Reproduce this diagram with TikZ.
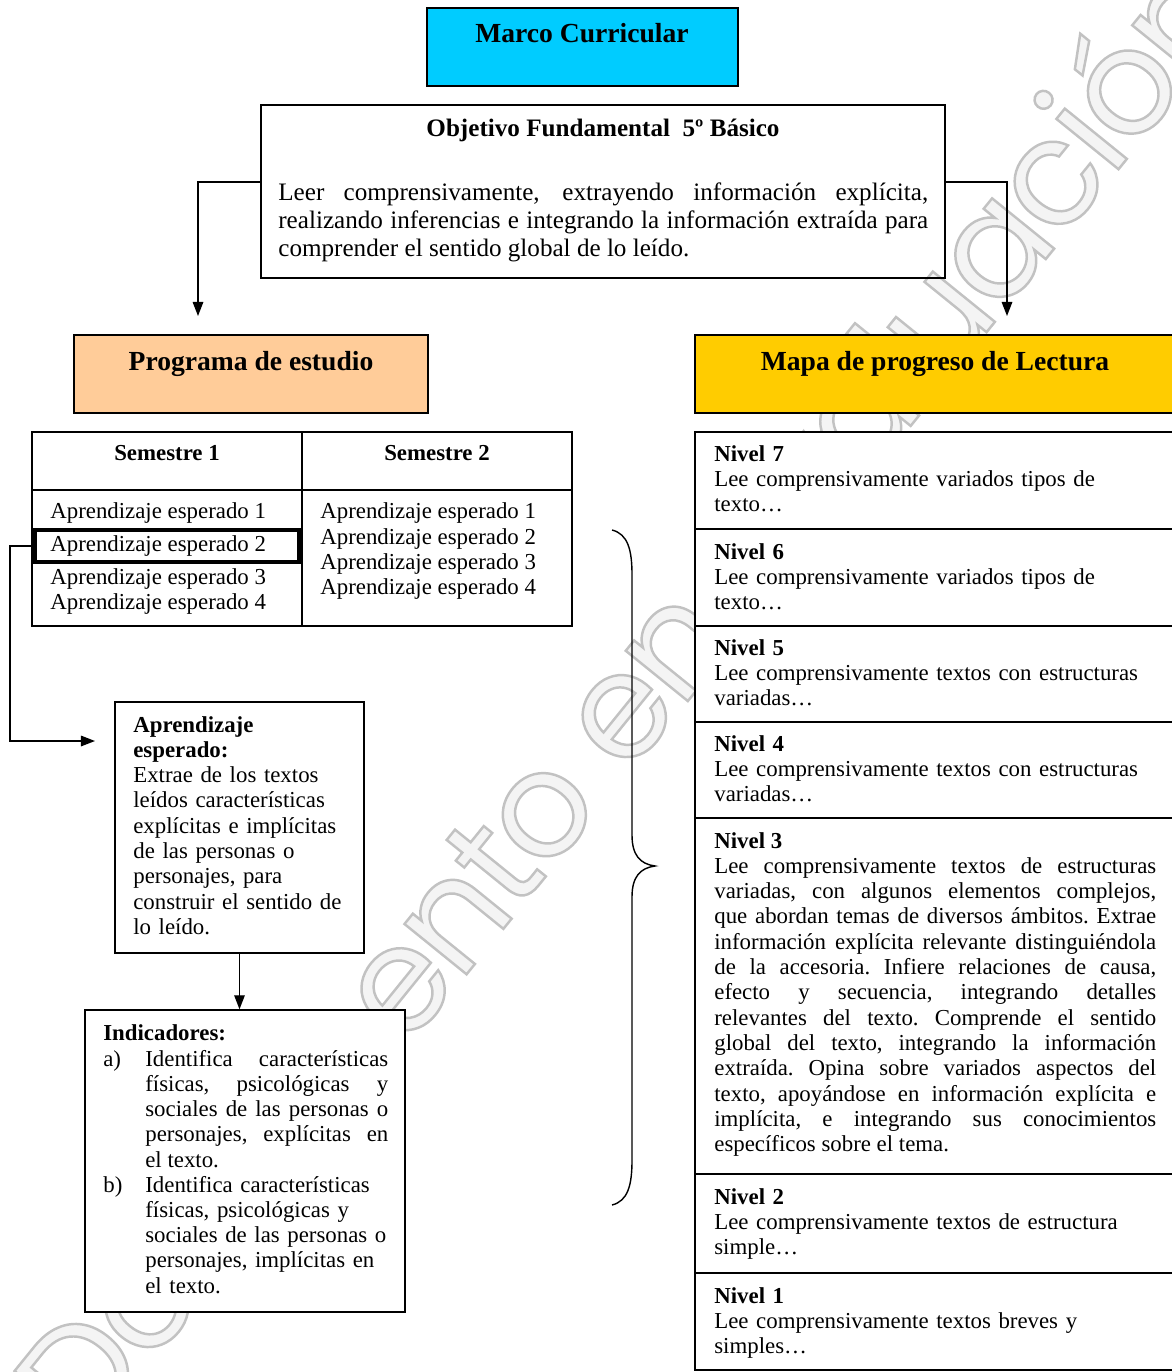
\documentclass[tikz,border=0pt]{standalone}
\usepackage{fontspec}
\setmainfont{Liberation Serif}
\newfontfamily\wmfont[LetterSpace=-3]{Poppins}
\usetikzlibrary{arrows.meta,fit,positioning}

\definecolor{marcoblue}{RGB}{0,204,255}
\definecolor{progpeach}{RGB}{255,204,153}
\definecolor{mapagold}{RGB}{255,204,0}
\definecolor{wmfill}{RGB}{244,244,244}

% hollow letters for the watermark
\newcommand{\hollow}[1]{\special{pdf:literal direct 2 Tr 1.4 w 0.76 G}#1\special{pdf:literal direct 0 Tr}}

\begin{document}
\begin{tikzpicture}[x=0.02cm, y=-0.02cm,
    box/.style={draw, line width=0.8pt, inner sep=0pt},
    wbox/.style={box, fill=white},
    body/.style={inner sep=0pt, font=\fontsize{13}{14.4}\selectfont\frenchspacing},
    hd/.style={inner sep=0pt, font=\fontsize{15.7}{18}\selectfont\bfseries},
    link/.style={line width=0.8pt, -{Triangle[width=6pt,length=8pt]}}]

    \useasboundingbox (0,0) rectangle (1172,1372);

    % Watermark
    \node[rotate=51, inner sep=0pt, text=wmfill, font=\wmfont\fontsize{83}{83}\selectfont] (marca) at (622,692) {\hollow{Documento en evaluación}};

    % Marco Curricular
    \node[box, fill=marcoblue, fit={(427,8) (738,86)}] (marco) {};
    \node[hd, anchor=base] (marco-t) at (582,43) {Marco Curricular};

    % Objetivo Fundamental
    \node[box, fit={(261,105) (945,278)}] (obj) {};
    \node[inner sep=0pt, font=\fontsize{14.3}{16}\selectfont\bfseries, anchor=base] (obj-t) at (603,136) {Objetivo Fundamental\ \ 5º Básico};
    \node[inner sep=0pt, font=\fontsize{14.3}{16.2}\selectfont, anchor=base west, text width=13cm, align=justify] (obj-txt) at (278,200)
      {Leer comprensivamente, extrayendo información explícita,\linebreak realizando inferencias e integrando la información extraída para\linebreak comprender el sentido global de lo leído.};

    % Programa de estudio / Mapa de progreso
    \node[box, fill=progpeach, fit={(74,335) (428,413)}] (prog) {};
    \node[hd, anchor=base] (prog-t) at (251,370) {Programa de estudio};
    \node[box, fill=mapagold, fit={(695,335) (1190,413)}] (mapa) {};
    \node[hd, anchor=base] (mapa-t) at (935,370) {Mapa de progreso de Lectura};

    \coordinate (prog-in) at (198,316);
    \coordinate (mapa-in) at (1007,316);
    \draw[link] ([yshift=0.19cm]obj.west) -| (prog-in);
    \draw[link] ([yshift=0.19cm]obj.east) -| (mapa-in);

    % Semestres
    \node[wbox, fit={(32,432) (302,490)}, font=\fontsize{13}{14.4}\selectfont\bfseries] (sem1-head) {Semestre 1};
    \node[wbox, fit={(302,432) (572,490)}, font=\fontsize{13}{14.4}\selectfont\bfseries] (sem2-head) {Semestre 2};
    \node[wbox, fit={(32,490) (302,626)}] (sem1-body) {};
    \node[wbox, fit={(302,490) (572,626)}] (sem2-body) {};
    \node[draw, line width=2.4pt, inner sep=0pt, fit={(35,530) (299,562)}] (ae2) {};
    \foreach \i/\yy in {1/518,2/551,3/584,4/609}
      \node[body, anchor=base west] (s1-ae\i) at (50,\yy) {Aprendizaje esperado \i};
    \foreach \i/\yy in {1/518,2/544,3/569,4/594}
      \node[body, anchor=base west] (s2-ae\i) at (320,\yy) {Aprendizaje esperado \i};

    % Aprendizaje esperado
    \node[wbox, fit={(115,702) (364,953)}] (apr) {};
    \node[body, anchor=base west, text width=4.5cm, align=left] (apr-txt) at (133,732)
      {\textbf{Aprendizaje}\\\textbf{esperado:}\\Extrae de los textos\\leídos características\\explícitas e implícitas\\de las personas o\\personajes, para\\construir el sentido de\\lo leído.};
    \coordinate (apr-in) at (95,741);
    \draw[link] (ae2.west) -- ++(-23,0) |- (apr-in);

    % Indicadores
    \node[wbox, fit={(85,1010) (405,1312)}] (ind) {};
    \draw[link] (apr.south) -- (apr.south |- ind.north);
    \node[body, anchor=base west] (ind-t) at (103,1040) {\textbf{Indicadores:}};
    \node[body, anchor=base west] (ind-a-lbl) at (103,1066) {a)};
    \node[body, anchor=base west, text width=4.86cm, align=justify] (ind-a) at (145,1066)
      {Identifica características\linebreak físicas, psicológicas y\linebreak sociales de las personas o\linebreak personajes, explícitas en\linebreak el texto.};
    \node[body, anchor=base west] (ind-b-lbl) at (103,1192) {b)};
    \node[body, anchor=base west, text width=4.86cm, align=left] (ind-b) at (145,1192)
      {Identifica características\\físicas, psicológicas y\\sociales de las personas o\\personajes, implícitas en\\el texto.};

    % Llave
    \draw[line width=0.8pt] (612,530) .. controls (628,534) and (632,550) .. (632,575) -- (632,835)
      .. controls (632,855) and (640,864) .. (655,866) .. controls (640,868) and (632,877) .. (632,897)
      -- (632,1160) .. controls (632,1185) and (628,1201) .. (612,1205);

    % Niveles
    \foreach \n/\top/\bot in {7/432/529,6/529/626,5/626/722,4/722/818,3/818/1174,2/1174/1273,1/1273/1370}
      \node[wbox, fit={(695,\top) (1190,\bot)}] (niv\n) {};
    \node[body, anchor=base west, text width=8.84cm, align=left] (niv7-t) at (714,461)
      {\textbf{Nivel 7}\\Lee comprensivamente variados tipos de\\texto…};
    \node[body, anchor=base west, text width=8.84cm, align=left] (niv6-t) at (714,559)
      {\textbf{Nivel 6}\\Lee comprensivamente variados tipos de\\texto…};
    \node[body, anchor=base west, text width=8.84cm, align=left] (niv5-t) at (714,655)
      {\textbf{Nivel 5}\\Lee comprensivamente textos con estructuras\\variadas…};
    \node[body, anchor=base west, text width=8.84cm, align=left] (niv4-t) at (714,751)
      {\textbf{Nivel 4}\\Lee comprensivamente textos con estructuras\\variadas…};
    \node[body, anchor=base west, text width=8.84cm, align=justify] (niv3-t) at (714,848)
      {\textbf{Nivel 3}\par Lee comprensivamente textos de estructuras\linebreak variadas, con algunos elementos complejos,\linebreak que abordan temas de diversos ámbitos. Extrae\linebreak información explícita relevante distinguiéndola\linebreak de la accesoria. Infiere relaciones de causa,\linebreak efecto y secuencia, integrando detalles\linebreak relevantes del texto. Comprende el sentido\linebreak global del texto, integrando la información\linebreak extraída. Opina sobre variados aspectos del\linebreak texto, apoyándose en información explícita e\linebreak implícita, e integrando sus conocimientos\linebreak específicos sobre el tema.};
    \node[body, anchor=base west, text width=8.84cm, align=left] (niv2-t) at (714,1204)
      {\textbf{Nivel 2}\\Lee comprensivamente textos de estructura\\simple…};
    \node[body, anchor=base west, text width=8.84cm, align=left] (niv1-t) at (714,1303)
      {\textbf{Nivel 1}\\Lee comprensivamente textos breves y\\simples…};
\end{tikzpicture}
\end{document}
